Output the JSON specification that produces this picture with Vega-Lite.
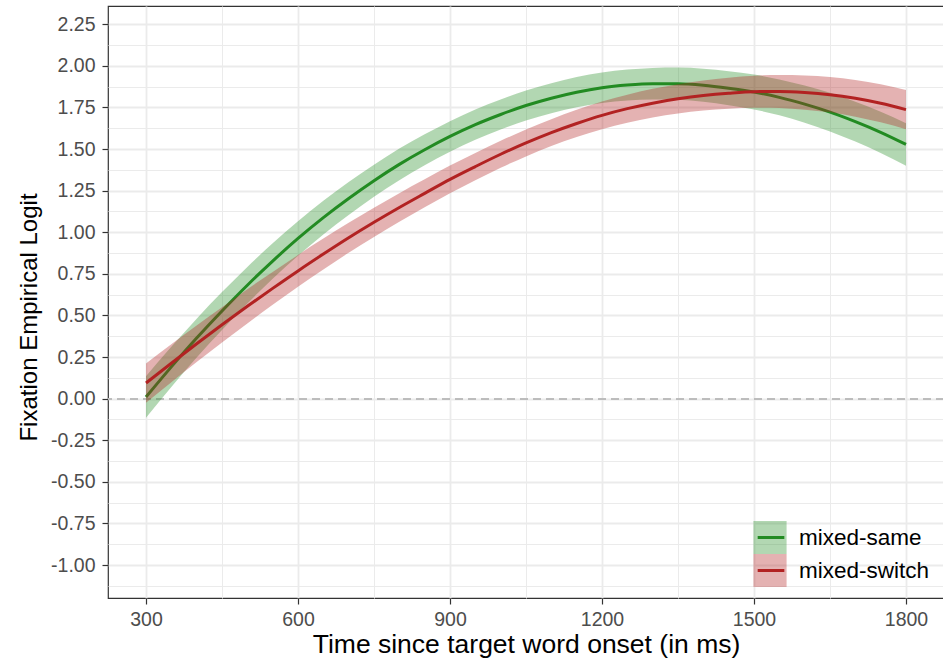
{
  "$schema": "https://vega.github.io/schema/vega-lite/v6.json",
  "width": 836,
  "height": 592,
  "autosize": {"type": "none"},
  "padding": {"left": 108, "top": 6, "right": 0, "bottom": 66},
  "background": "white",
  "config": {
    "view": {"stroke": "#333333", "strokeWidth": 1.2},
    "font": "Liberation Sans"
  },
  "data": {"values": [
    {"c":"mixed-same","t":300,"v":0.010,"lo":-0.115,"hi":0.135},
    {"c":"mixed-same","t":350,"v":0.191,"lo":0.070,"hi":0.312},
    {"c":"mixed-same","t":400,"v":0.364,"lo":0.247,"hi":0.481},
    {"c":"mixed-same","t":450,"v":0.527,"lo":0.413,"hi":0.641},
    {"c":"mixed-same","t":500,"v":0.682,"lo":0.572,"hi":0.792},
    {"c":"mixed-same","t":550,"v":0.827,"lo":0.720,"hi":0.934},
    {"c":"mixed-same","t":600,"v":0.963,"lo":0.859,"hi":1.067},
    {"c":"mixed-same","t":650,"v":1.088,"lo":0.987,"hi":1.189},
    {"c":"mixed-same","t":700,"v":1.203,"lo":1.104,"hi":1.302},
    {"c":"mixed-same","t":750,"v":1.310,"lo":1.214,"hi":1.406},
    {"c":"mixed-same","t":800,"v":1.408,"lo":1.313,"hi":1.503},
    {"c":"mixed-same","t":850,"v":1.496,"lo":1.403,"hi":1.589},
    {"c":"mixed-same","t":900,"v":1.576,"lo":1.484,"hi":1.668},
    {"c":"mixed-same","t":950,"v":1.647,"lo":1.556,"hi":1.738},
    {"c":"mixed-same","t":1000,"v":1.708,"lo":1.618,"hi":1.798},
    {"c":"mixed-same","t":1050,"v":1.762,"lo":1.672,"hi":1.852},
    {"c":"mixed-same","t":1100,"v":1.806,"lo":1.716,"hi":1.896},
    {"c":"mixed-same","t":1150,"v":1.842,"lo":1.751,"hi":1.933},
    {"c":"mixed-same","t":1200,"v":1.869,"lo":1.777,"hi":1.961},
    {"c":"mixed-same","t":1250,"v":1.885,"lo":1.792,"hi":1.978},
    {"c":"mixed-same","t":1300,"v":1.893,"lo":1.798,"hi":1.988},
    {"c":"mixed-same","t":1350,"v":1.893,"lo":1.796,"hi":1.990},
    {"c":"mixed-same","t":1400,"v":1.884,"lo":1.785,"hi":1.983},
    {"c":"mixed-same","t":1450,"v":1.866,"lo":1.764,"hi":1.968},
    {"c":"mixed-same","t":1500,"v":1.843,"lo":1.738,"hi":1.948},
    {"c":"mixed-same","t":1550,"v":1.811,"lo":1.703,"hi":1.919},
    {"c":"mixed-same","t":1600,"v":1.770,"lo":1.658,"hi":1.882},
    {"c":"mixed-same","t":1650,"v":1.722,"lo":1.606,"hi":1.838},
    {"c":"mixed-same","t":1700,"v":1.665,"lo":1.545,"hi":1.785},
    {"c":"mixed-same","t":1750,"v":1.601,"lo":1.477,"hi":1.725},
    {"c":"mixed-same","t":1800,"v":1.528,"lo":1.400,"hi":1.656},
    {"c":"mixed-switch","t":300,"v":0.094,"lo":-0.024,"hi":0.212},
    {"c":"mixed-switch","t":350,"v":0.213,"lo":0.099,"hi":0.327},
    {"c":"mixed-switch","t":400,"v":0.330,"lo":0.220,"hi":0.440},
    {"c":"mixed-switch","t":450,"v":0.444,"lo":0.338,"hi":0.550},
    {"c":"mixed-switch","t":500,"v":0.555,"lo":0.452,"hi":0.658},
    {"c":"mixed-switch","t":550,"v":0.663,"lo":0.564,"hi":0.762},
    {"c":"mixed-switch","t":600,"v":0.768,"lo":0.672,"hi":0.864},
    {"c":"mixed-switch","t":650,"v":0.869,"lo":0.776,"hi":0.962},
    {"c":"mixed-switch","t":700,"v":0.967,"lo":0.877,"hi":1.057},
    {"c":"mixed-switch","t":750,"v":1.060,"lo":0.972,"hi":1.148},
    {"c":"mixed-switch","t":800,"v":1.149,"lo":1.063,"hi":1.235},
    {"c":"mixed-switch","t":850,"v":1.234,"lo":1.150,"hi":1.318},
    {"c":"mixed-switch","t":900,"v":1.318,"lo":1.235,"hi":1.401},
    {"c":"mixed-switch","t":950,"v":1.395,"lo":1.313,"hi":1.477},
    {"c":"mixed-switch","t":1000,"v":1.469,"lo":1.388,"hi":1.550},
    {"c":"mixed-switch","t":1050,"v":1.537,"lo":1.456,"hi":1.618},
    {"c":"mixed-switch","t":1100,"v":1.599,"lo":1.518,"hi":1.680},
    {"c":"mixed-switch","t":1150,"v":1.654,"lo":1.572,"hi":1.736},
    {"c":"mixed-switch","t":1200,"v":1.703,"lo":1.620,"hi":1.786},
    {"c":"mixed-switch","t":1250,"v":1.743,"lo":1.659,"hi":1.827},
    {"c":"mixed-switch","t":1300,"v":1.776,"lo":1.690,"hi":1.862},
    {"c":"mixed-switch","t":1350,"v":1.802,"lo":1.714,"hi":1.890},
    {"c":"mixed-switch","t":1400,"v":1.822,"lo":1.732,"hi":1.912},
    {"c":"mixed-switch","t":1450,"v":1.836,"lo":1.743,"hi":1.929},
    {"c":"mixed-switch","t":1500,"v":1.845,"lo":1.749,"hi":1.941},
    {"c":"mixed-switch","t":1550,"v":1.846,"lo":1.747,"hi":1.945},
    {"c":"mixed-switch","t":1600,"v":1.840,"lo":1.737,"hi":1.943},
    {"c":"mixed-switch","t":1650,"v":1.827,"lo":1.721,"hi":1.933},
    {"c":"mixed-switch","t":1700,"v":1.805,"lo":1.695,"hi":1.915},
    {"c":"mixed-switch","t":1750,"v":1.775,"lo":1.661,"hi":1.889},
    {"c":"mixed-switch","t":1800,"v":1.737,"lo":1.619,"hi":1.855}
  ]},
  "resolve": {"axis": {"x": "independent", "y": "independent"}},
  "layer": [
    {
      "mark": {"type": "point", "opacity": 0},
      "encoding": {
        "x": {"field": "t", "type": "quantitative", "scale": {"domain": [225, 1875], "nice": false, "zero": false},
              "axis": {"orient": "bottom", "values": [450, 750, 1050, 1350, 1650], "grid": true, "gridColor": "#EBEBEB", "gridWidth": 1, "labels": false, "ticks": false, "domain": false, "title": null}},
        "y": {"field": "v", "type": "quantitative", "scale": {"domain": [-1.198, 2.36], "nice": false, "zero": false},
              "axis": {"orient": "left", "values": [-1.125, -0.875, -0.625, -0.375, -0.125, 0.125, 0.375, 0.625, 0.875, 1.125, 1.375, 1.625, 1.875, 2.125], "grid": true, "gridColor": "#EBEBEB", "gridWidth": 1, "labels": false, "ticks": false, "domain": false, "title": null}}
      }
    },
    {
      "mark": {"type": "rule", "color": "#BDBDBD", "strokeDash": [8, 5], "strokeWidth": 1.3},
      "encoding": {
        "y": {"datum": 0, "type": "quantitative", "scale": {"domain": [-1.198, 2.36], "nice": false, "zero": false}, "axis": null}
      }
    },
    {
      "transform": [{"filter": "datum.c === 'mixed-same'"}],
      "mark": {"type": "area", "fillOpacity": 0.35, "interpolate": "monotone"},
      "encoding": {
        "x": {"field": "t", "type": "quantitative", "scale": {"domain": [225, 1875], "nice": false, "zero": false},
              "axis": {"orient": "bottom", "values": [300, 600, 900, 1200, 1500, 1800], "format": "d", "grid": true, "gridColor": "#EBEBEB", "gridWidth": 1.8, "domain": false, "tickColor": "#333333", "tickSize": 6, "tickWidth": 1.2, "labelFontSize": 19.5, "labelColor": "#4D4D4D", "labelPadding": 6, "labelFont": "Liberation Sans", "labelFlush": false, "labelOverlap": false, "title": "Time since target word onset (in ms)", "titleFont": "Liberation Sans", "titleFontSize": 26.5, "titleFontWeight": "normal", "titleColor": "black", "titlePadding": 3}},
        "y": {"field": "lo", "type": "quantitative", "scale": {"domain": [-1.198, 2.36], "nice": false, "zero": false},
              "axis": {"orient": "left", "values": [-1, -0.75, -0.5, -0.25, 0, 0.25, 0.5, 0.75, 1, 1.25, 1.5, 1.75, 2, 2.25], "labelExpr": "replace(format(datum.value, '.2f'), '\u2212', '-')", "grid": true, "gridColor": "#EBEBEB", "gridWidth": 1.8, "domain": false, "tickColor": "#333333", "tickSize": 6, "tickWidth": 1.2, "labelFontSize": 19.5, "labelColor": "#4D4D4D", "labelPadding": 7, "labelFont": "Liberation Sans", "labelFlush": false, "labelOverlap": false, "title": "Fixation Empirical Logit", "titleFont": "Liberation Sans", "titleFontSize": 24, "titleFontWeight": "normal", "titleColor": "black", "titlePadding": 9, "titleY": 311}},
        "y2": {"field": "hi"},
        "fill": {"field": "c", "type": "nominal", "scale": {"domain": ["mixed-same", "mixed-switch"], "range": ["#228B22", "#B22222"]},
                 "legend": {"orient": "none", "legendX": 645, "legendY": 515, "title": null, "padding": 0, "rowPadding": 0, "clipHeight": 33, "symbolType": "square", "symbolSize": 1100, "symbolOpacity": 0.35, "symbolStrokeWidth": 0, "labelFontSize": 22.5, "labelFont": "Liberation Sans", "labelColor": "black", "labelOffset": 12}}
      }
    },
    {
      "transform": [{"filter": "datum.c === 'mixed-same'"}],
      "mark": {"type": "line", "strokeWidth": 3, "interpolate": "monotone"},
      "encoding": {
        "x": {"field": "t", "type": "quantitative", "scale": {"domain": [225, 1875], "nice": false, "zero": false}, "axis": null},
        "y": {"field": "v", "type": "quantitative", "scale": {"domain": [-1.198, 2.36], "nice": false, "zero": false}, "axis": null},
        "stroke": {"field": "c", "type": "nominal", "scale": {"range": ["#228B22", "#B22222"]},
                   "legend": {"orient": "none", "legendX": 648, "legendY": 515, "title": null, "padding": 0, "rowPadding": 0, "clipHeight": 33, "symbolType": "stroke", "symbolSize": 711, "symbolStrokeWidth": 3, "symbolFillColor": "transparent", "labelFontSize": 22.5, "labelOpacity": 0, "labelOffset": 12}}
      }
    },
    {
      "transform": [{"filter": "datum.c === 'mixed-switch'"}],
      "mark": {"type": "area", "fillOpacity": 0.35, "interpolate": "monotone"},
      "encoding": {
        "x": {"field": "t", "type": "quantitative", "scale": {"domain": [225, 1875], "nice": false, "zero": false}, "axis": null},
        "y": {"field": "lo", "type": "quantitative", "scale": {"domain": [-1.198, 2.36], "nice": false, "zero": false}, "axis": null},
        "y2": {"field": "hi"},
        "fill": {"field": "c", "type": "nominal"}
      }
    },
    {
      "transform": [{"filter": "datum.c === 'mixed-switch'"}],
      "mark": {"type": "line", "strokeWidth": 3, "interpolate": "monotone"},
      "encoding": {
        "x": {"field": "t", "type": "quantitative", "scale": {"domain": [225, 1875], "nice": false, "zero": false}, "axis": null},
        "y": {"field": "v", "type": "quantitative", "scale": {"domain": [-1.198, 2.36], "nice": false, "zero": false}, "axis": null},
        "stroke": {"field": "c", "type": "nominal"}
      }
    }
  ]
}
